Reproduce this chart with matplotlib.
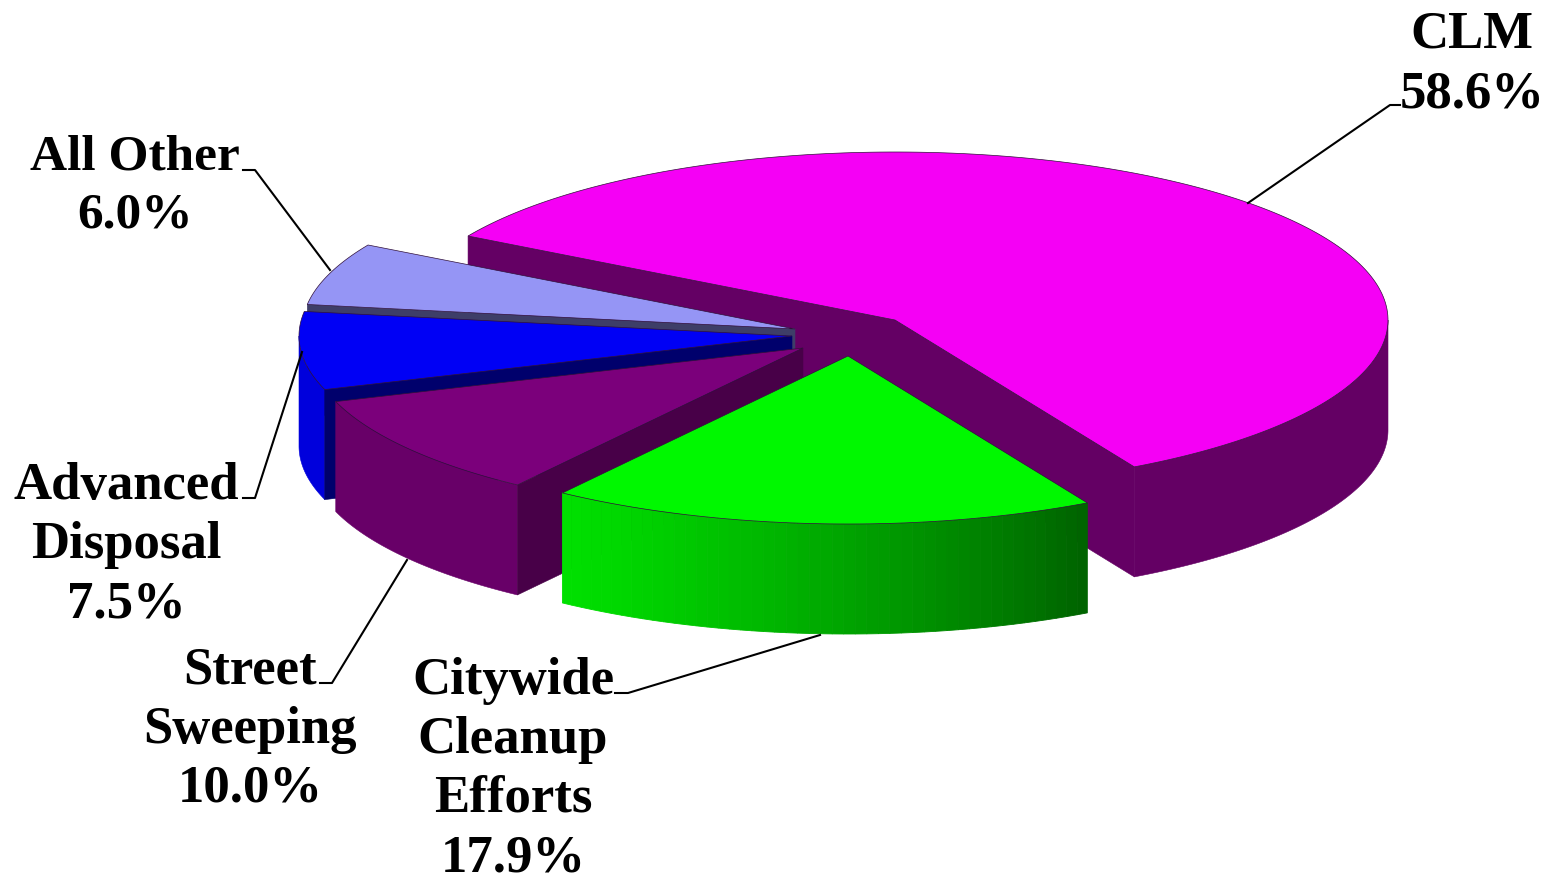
import numpy as np
import matplotlib
matplotlib.use("Agg")
import matplotlib.pyplot as plt
from matplotlib.colors import to_rgb

# Data
categories = ["CLM", "Citywide\nCleanup\nEfforts", "Street\nSweeping", "Advanced\nDisposal", "All Other"]
shares = [58.6, 17.9, 10.0, 7.5, 6.0]

# Styles and layout
top_colors = ["#F500F5", "#00F800", "#7B007B", "#0000F5", "#9595F5"]
side_colors = ["#640064", None, "#680068", "#0000DC", "#5A5A90"]
cut_colors = ["#640064", None, "#480048", "#00006C", "#3E3E68"]
green_side = ("#00E000", "#006400")
centers = [(895, 320), (848, 356), (803, 348), (792, 336), (795, 329)]
A, B, DEPTH = 493, 168, 110
START = 150.0
label_x = [1472, 513, 250, 126, 135]
label_base = [48, 694, 684, 499, 169]
label_size = [38, 38, 38, 38, 37]
line_h = 59
leaders = [[(1248, 203), (1390, 105), (1400, 105)],
           [(820, 635), (628, 693), (615, 693)],
           [(407, 560), (332, 683), (320, 683)],
           [(302, 352), (255, 498), (243, 498)],
           [(330, 270), (255, 170), (243, 170)]]

fig = plt.figure(figsize=(15.48, 8.74), dpi=100)
ax = fig.add_axes([0, 0, 1, 1])
ax.set_xlim(0, 1548)
ax.set_ylim(874, 0)
ax.axis("off")


def arc(c, t0, t1, n=200, dz=0):
    t = np.radians(np.linspace(t0, t1, n))
    return np.c_[c[0] + A * np.cos(t), c[1] - B * np.sin(t) + dz]


sweeps = np.array(shares) / sum(shares) * 360
t_edges = START - np.r_[0, np.cumsum(sweeps)]
order = [0, 4, 3, 2, 1]

for i in order:
    c, t0, t1 = centers[i], t_edges[i], t_edges[i + 1]
    z = 10 - i if i else 0
    # Outer wall: only the part of the arc that faces the viewer (angles 0 to -180)
    w0, w1 = min(t0, 0), max(t1, -180)
    if side_colors[i] is None:
        n = 48
        ts = np.linspace(w1, w0, n + 1)
        c0, c1 = np.array(to_rgb(green_side[0])), np.array(to_rgb(green_side[1]))
        for k in range(n):
            u = k / (n - 1)
            top = arc(c, ts[k], ts[k + 1], 6)
            poly = np.r_[top, top[::-1] + [0, DEPTH]]
            col = c0 + (c1 - c0) * u ** 1.2
            ax.fill(poly[:, 0], poly[:, 1], color=col, lw=0.6, zorder=z)
    elif w0 > w1:
        top = arc(c, w0, w1)
        poly = np.r_[top, top[::-1] + [0, DEPTH]]
        ax.fill(poly[:, 0], poly[:, 1], color=side_colors[i], lw=0.4, zorder=z)
    # Cut walls that face the viewer
    for t, vis in ((t0, np.cos(np.radians(t0)) < 0), (t1, np.cos(np.radians(t1)) > 0)):
        if vis:
            p = arc(c, t, t, 1)[0]
            q = np.array([c, p, p + [0, DEPTH], np.array(c) + [0, DEPTH]])
            ax.fill(q[:, 0], q[:, 1], color=cut_colors[i], lw=0.4, zorder=z)
    # Top face
    poly = np.r_[[c], arc(c, t0, t1)]
    ax.fill(poly[:, 0], poly[:, 1], facecolor=top_colors[i], edgecolor="#30103a",
            lw=0.5, zorder=z)

for i, name in enumerate(categories):
    pts = np.array(leaders[i])
    ax.plot(pts[:, 0], pts[:, 1], color="black", lw=1.5, zorder=20)
    lines = name.split("\n") + [f"{shares[i]:.1f}%"]
    for j, line in enumerate(lines):
        ax.text(label_x[i], label_base[i] + j * line_h, line, family="Liberation Serif",
                weight="bold", fontsize=label_size[i], ha="center", va="baseline",
                color="black", zorder=21)

fig.savefig("out.png", dpi=100, facecolor="white")
